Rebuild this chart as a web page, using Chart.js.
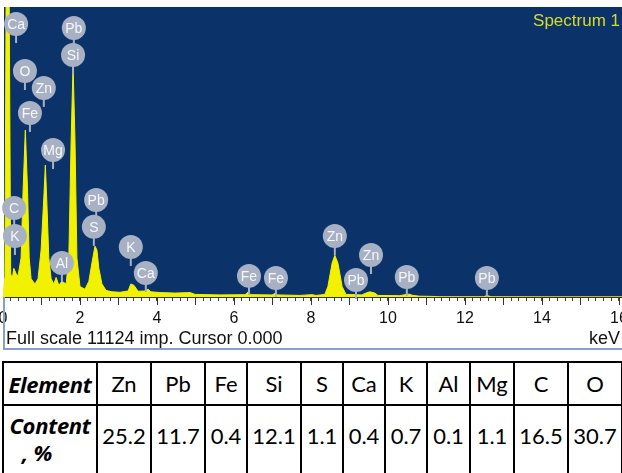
<!DOCTYPE html>
<html>
<head>
<meta charset="utf-8">
<script src="https://cdn.jsdelivr.net/npm/chart.js@4"></script>
<style>
  body { margin: 0; width: 622px; height: 473px; overflow: hidden; background: #fff; position: relative; }
  #spectrum { position: absolute; left: 0; top: 0; }
  #results { position: absolute; left: 2px; top: 361px; border-collapse: collapse; table-layout: fixed; width: 619px;
             font-family: Lato, "Open Sans", sans-serif; color: #000; }
  #results td { border: 2px solid #000; text-align: center; padding: 0; overflow: hidden; white-space: nowrap; }
  #results tr.head td { height: 41px; font-size: 22px; }
  #results tr.vals td { height: 100px; vertical-align: top; font-size: 22px; padding-top: 17px; line-height: 26px; }
  #results td.name { font-family: "Open Sans", sans-serif; font-weight: bold; font-style: italic; font-size: 22px; letter-spacing: -0.3px; }
  #results tr.vals td.name { padding-top: 6px; line-height: 27px; }
  #results td.name span { position: relative; left: -13px; }
</style>
</head>
<body>
<canvas id="spectrum" width="622" height="352"></canvas>
<table id="results"></table>
<script>
// spectrum (energy in keV, counts; full scale 11124)
const energyKeV = [0.00, 0.05, 0.08, 0.12, 0.16, 0.20, 0.24, 0.28, 0.34, 0.39,
  0.47, 0.52, 0.58, 0.64, 0.68, 0.73, 0.83, 0.91, 0.99, 1.06,
  1.10, 1.14, 1.19, 1.25, 1.32, 1.38, 1.45, 1.53, 1.64, 1.71,
  1.77, 1.82, 1.87, 1.92, 2.00, 2.13, 2.23, 2.31, 2.39, 2.44,
  2.49, 2.57, 2.68, 2.83, 3.04, 3.25, 3.32, 3.40, 3.51, 3.69,
  3.77, 3.84, 4.08, 4.47, 4.86, 4.99, 5.64, 6.29, 6.36, 6.44,
  6.99, 7.06, 7.14, 7.71, 8.03, 8.13, 8.36, 8.44, 8.55, 8.62,
  8.70, 8.81, 8.91, 9.32, 9.43, 9.53, 9.66, 9.74, 10.31, 10.44,
  10.55, 10.65, 10.83, 11.09, 11.35, 12.49, 12.57, 12.68, 14.20, 16.08];
const counts = [0, 800, 11500, 14000, 11500, 900, 700, 1100, 900, 800,
  1500, 4000, 6400, 4000, 1500, 700, 500, 700, 1800, 3800,
  5060, 3600, 1500, 700, 500, 750, 450, 600, 500, 1500,
  6000, 8900, 6000, 1500, 400, 300, 600, 1300, 1950, 1800,
  1100, 500, 250, 200, 180, 230, 500, 450, 220, 230,
  300, 200, 170, 150, 170, 100, 80, 90, 180, 90,
  80, 130, 80, 60, 90, 60, 100, 400, 1300, 1600,
  1300, 400, 100, 80, 150, 200, 150, 60, 50, 90,
  110, 60, 30, 25, 10, 10, 60, 10, 5, 5];
const fullScale = 11124;
const maxKeV = 16.08;

// peak markers: element, line energy (keV), level where the tag sits (counts)
const markerNames = ['Ca', 'Pb', 'Si', 'O', 'Zn', 'Fe', 'Mg', 'C', 'K', 'Pb', 'S',
  'Al', 'K', 'Ca', 'Fe', 'Fe', 'Zn', 'Zn', 'Pb', 'Pb', 'Pb'];
const markerKeV = [0.34, 1.84, 1.82, 0.57, 1.06, 0.70, 1.30, 0.29, 0.31, 2.42, 2.36,
  1.53, 3.32, 3.71, 6.39, 7.09, 8.62, 9.56, 9.17, 10.49, 12.57];
const markerLevel = [10470, 10320, 9280, 8670, 8020, 7060, 5640, 3410, 2340, 3720, 2690,
  1300, 1920, 920, 810, 730, 2340, 1610, 650, 770, 730];

// quantification table
const elements = ['Zn', 'Pb', 'Fe', 'Si', 'S', 'Ca', 'K', 'Al', 'Mg', 'C', 'O'];
const contents = [25.2, 11.7, 0.4, 12.1, 1.1, 0.4, 0.7, 0.1, 1.1, 16.5, 30.7];
const colWidths = [94, 54, 54, 42, 54, 42, 42, 42, 43, 44, 54, 54];

const navy = '#0b3369';
const yellow = '#f2f200';
const sans = '"Liberation Sans", Arial, sans-serif';

const panel = {
  id: 'panel',
  beforeDraw(chart) {
    const { ctx, chartArea: a } = chart;
    ctx.save();
    ctx.fillStyle = navy;
    ctx.fillRect(a.left + 1, a.top, chart.width - a.left, a.bottom - a.top);
    ctx.restore();
  },
  afterDatasetsDraw(chart) {
    const { ctx } = chart;
    const xs = chart.scales.x, ys = chart.scales.y;
    ctx.save();
    ctx.font = '14px ' + sans;
    ctx.textAlign = 'center';
    ctx.textBaseline = 'middle';
    markerNames.forEach((name, i) => {
      const x = xs.getPixelForValue(markerKeV[i]);
      const y = ys.getPixelForValue(markerLevel[i]);
      ctx.strokeStyle = '#a7b1c3';
      ctx.lineWidth = 2;
      ctx.beginPath();
      ctx.moveTo(x, y);
      ctx.lineTo(x, y + 19);
      ctx.stroke();
      ctx.fillStyle = '#a7b1c3';
      ctx.beginPath();
      ctx.arc(x, y, 12, 0, Math.PI * 2);
      ctx.fill();
      ctx.fillStyle = '#f6f7fa';
      ctx.fillText(name, x, y + 1);
    });
    ctx.fillStyle = '#d9d92a';
    ctx.textAlign = 'right';
    ctx.font = '17px ' + sans;
    ctx.fillText('Spectrum 1', 620, 21);
    ctx.restore();
  },
  afterDraw(chart) {
    const { ctx, chartArea: a } = chart;
    const xs = chart.scales.x;
    ctx.save();
    // longer ticks on whole keV
    ctx.strokeStyle = '#333';
    ctx.lineWidth = 1;
    for (let k = 0; k <= 16; k++) {
      const x = Math.round(xs.getPixelForValue(k)) + 0.5;
      ctx.beginPath();
      ctx.moveTo(x, a.bottom);
      ctx.lineTo(x, a.bottom + 8);
      ctx.stroke();
    }
    // frame of the spectrum window
    ctx.strokeStyle = '#86a0c6';
    ctx.lineWidth = 2;
    ctx.beginPath();
    ctx.moveTo(4, a.bottom);
    ctx.lineTo(4, 349);
    ctx.lineTo(622, 349);
    ctx.stroke();
    ctx.fillStyle = '#111';
    ctx.font = '18px ' + sans;
    ctx.textBaseline = 'middle';
    ctx.textAlign = 'left';
    ctx.fillText('Full scale ' + fullScale + ' imp. Cursor 0.000', 6, 339);
    ctx.textAlign = 'right';
    ctx.fillText('keV', 620, 339);
    ctx.restore();
  }
};

new Chart(document.getElementById('spectrum'), {
  type: 'line',
  data: {
    datasets: [{
      data: energyKeV.map((e, i) => ({ x: e, y: counts[i] })),
      borderColor: yellow,
      backgroundColor: yellow,
      borderWidth: 1,
      pointRadius: 0,
      tension: 0,
      fill: 'origin'
    }]
  },
  options: {
    responsive: false,
    animation: false,
    layout: { padding: { left: 3, right: 0, top: 7, bottom: 27 } },
    plugins: { legend: { display: false }, tooltip: { enabled: false } },
    scales: {
      x: {
        type: 'linear',
        min: 0,
        max: maxKeV,
        border: { display: true, color: '#333' },
        grid: { drawOnChartArea: false, drawTicks: true, tickLength: 4, color: '#444' },
        ticks: {
          stepSize: 0.2,
          includeBounds: false,
          autoSkip: false,
          maxRotation: 0,
          padding: 8,
          color: '#111',
          font: { family: sans, size: 16 },
          callback: (v) => {
            const r = Math.round(v);
            return Math.abs(v - r) < 1e-6 && r % 2 === 0 ? String(r) : '';
          }
        },
        afterFit(scale) {
          scale.height = 28;
          scale.paddingLeft = 0;
          scale.paddingRight = 0;
        }
      },
      y: { display: false, min: 0, max: fullScale }
    }
  },
  plugins: [panel]
});

// table under the spectrum
const table = document.getElementById('results');
const cg = document.createElement('colgroup');
colWidths.forEach(w => {
  const c = document.createElement('col');
  c.style.width = w + 'px';
  cg.appendChild(c);
});
table.appendChild(cg);
const head = table.insertRow();
head.className = 'head';
const vals = table.insertRow();
vals.className = 'vals';
let c = head.insertCell();
c.className = 'name';
c.textContent = 'Element';
c = vals.insertCell();
c.className = 'name';
c.innerHTML = 'Content<br><span>, %</span>';
elements.forEach((el, i) => {
  head.insertCell().textContent = el;
  vals.insertCell().textContent = contents[i].toFixed(1);
});
</script>
</body>
</html>
